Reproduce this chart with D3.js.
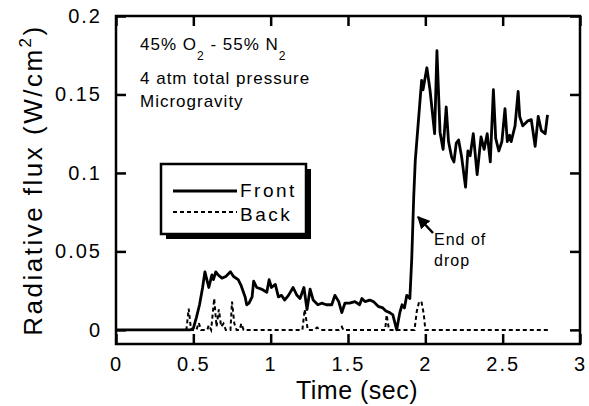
<!DOCTYPE html>
<html>
<head>
<meta charset="utf-8">
<script src="https://cdn.jsdelivr.net/npm/d3@7"></script>
<style>
    body { margin: 0; background: #fff; }
    svg { display: block; font-family: "Liberation Sans", Arial, Helvetica, sans-serif; }
    .frame { fill: none; stroke: #000; stroke-width: 2.5px; }
    .axis path { display: none; }
    .axis line { stroke: #000; stroke-width: 2.5px; }
    .axis text { font-size: 20px; letter-spacing: 2px; fill: #000; }
    .front { fill: none; stroke: #000; stroke-width: 2.8px; stroke-linejoin: round; }
    .back { fill: none; stroke: #000; stroke-width: 2px; stroke-dasharray: 4,3; }
</style>
</head>
<body>
<svg id="svg"></svg>
<script>
    // values
    const frontTime = [0, 0.48, 0.50, 0.52, 0.54, 0.56, 0.575, 0.60, 0.62, 0.63, 0.645, 0.66, 0.685,
        0.71, 0.74, 0.76, 0.79, 0.81, 0.835, 0.845, 0.86, 0.88, 0.89, 0.91, 0.94, 0.975, 0.99,
        1.005, 1.03, 1.05, 1.07, 1.09, 1.115, 1.145, 1.17, 1.19, 1.215, 1.235, 1.255, 1.275,
        1.305, 1.33, 1.36, 1.395, 1.415, 1.44, 1.46, 1.48, 1.51, 1.545, 1.575, 1.59, 1.61, 1.64,
        1.665, 1.695, 1.725, 1.745, 1.77, 1.79, 1.815, 1.835, 1.85, 1.865, 1.88, 1.90, 1.912,
        1.925, 1.935, 1.976, 1.985, 2.01, 2.03, 2.06, 2.075, 2.095, 2.115, 2.135, 2.15, 2.17,
        2.185, 2.20, 2.215, 2.235, 2.26, 2.275, 2.29, 2.31, 2.335, 2.36, 2.38, 2.40, 2.42, 2.44,
        2.455, 2.475, 2.495, 2.515, 2.53, 2.545, 2.555, 2.58, 2.60, 2.61, 2.63, 2.66, 2.685,
        2.71, 2.73, 2.75, 2.775, 2.79];
    const frontFlux = [0, 0, 0.001, 0.008, 0.016, 0.027, 0.037, 0.027, 0.035, 0.032, 0.037, 0.035, 0.033,
        0.034, 0.037, 0.034, 0.032, 0.028, 0.021, 0.016, 0.017, 0.021, 0.031, 0.027, 0.026, 0.024, 0.032,
        0.027, 0.029, 0.021, 0.022, 0.019, 0.022, 0.027, 0.022, 0.020, 0.027, 0.013, 0.026, 0.019,
        0.016, 0.017, 0.016, 0.016, 0.022, 0.018, 0.011, 0.017, 0.017, 0.018, 0.016, 0.020, 0.018, 0.019,
        0.018, 0.015, 0.014, 0.012, 0.011, 0.0096, 0, 0.011, 0.016, 0.014, 0.022, 0.020, 0.045,
        0.085, 0.108, 0.159, 0.153, 0.167, 0.153, 0.125, 0.178, 0.126, 0.115, 0.142, 0.120, 0.110,
        0.107, 0.119, 0.121, 0.110, 0.091, 0.114, 0.111, 0.125, 0.099, 0.123, 0.115, 0.125, 0.107, 0.153,
        0.122, 0.114, 0.120, 0.141, 0.120, 0.124, 0.120, 0.130, 0.152, 0.136, 0.130, 0.133, 0.134,
        0.117, 0.136, 0.127, 0.125, 0.137];

    const backTime = [0, 0.455, 0.47, 0.485, 0.52, 0.535, 0.55, 0.59, 0.60, 0.615, 0.635, 0.65, 0.665,
        0.68, 0.695, 0.71, 0.74, 0.75, 0.765, 0.78, 0.80, 0.81, 0.825, 1.205, 1.22, 1.24, 1.28, 1.30,
        1.32, 1.44, 1.46, 1.47, 1.74, 1.75, 1.765, 1.93, 1.945, 1.96, 1.975, 1.99, 2.0, 2.8];
    const backFlux = [0, 0, 0.0135, 0, 0, 0.0045, 0, 0, 0.003, 0, 0.020, 0.002, 0.013,
        0.002, 0.004, 0, 0, 0.018, 0.004, 0, 0, 0.004, 0, 0, 0.013, 0, 0, 0.0015,
        0, 0, 0.002, 0, 0, 0.0096, 0, 0, 0.012, 0.018, 0.018, 0.010, 0, 0];

    const xTicks = [0, 0.5, 1, 1.5, 2, 2.5, 3];
    const xTickLabels = ['0', '0.5', '1', '1.5', '2', '2.5', '3'];
    const yTicks = [0, 0.05, 0.1, 0.15, 0.2];
    const yTickLabels = ['0', '0.05', '0.1', '0.15', '0.2'];

    const margin = {top: 16, right: 9, bottom: 62, left: 116},
        width = 589 - margin.left - margin.right,
        height = 406 - margin.top - margin.bottom;

    const x = d3.scaleLinear().domain([0, 3]).range([0, width]);
    const y = d3.scaleLinear().domain([-0.009, 0.2]).range([height, 0]);

    const svg = d3.select('#svg')
        .attr('width', 589)
        .attr('height', 406);

    const g = svg.append('g')
        .attr('transform', 'translate(' + margin.left + ',' + margin.top + ')');

    const front = frontTime.map((t, i) => ({t: t, v: frontFlux[i]}));
    const back = backTime.map((t, i) => ({t: t, v: backFlux[i]}));

    const valueLine = d3.line()
        .x(d => x(d.t))
        .y(d => y(d.v));

    g.append('path').datum(back).attr('class', 'back').attr('d', valueLine);
    g.append('path').datum(front).attr('class', 'front').attr('d', valueLine);

    // axes with inward ticks on all four sides
    g.append('g')
        .attr('class', 'axis')
        .attr('transform', 'translate(0,' + height + ')')
        .call(d3.axisBottom(x).tickValues(xTicks).tickSizeInner(-10).tickSizeOuter(0)
            .tickPadding(13).tickFormat((d, i) => xTickLabels[i]));
    g.append('g')
        .attr('class', 'axis')
        .call(d3.axisTop(x).tickValues(xTicks).tickSizeInner(-10).tickSizeOuter(0)
            .tickFormat(''));
    g.append('g')
        .attr('class', 'axis')
        .call(d3.axisLeft(y).tickValues(yTicks).tickSizeInner(-10).tickSizeOuter(0)
            .tickPadding(14).tickFormat((d, i) => yTickLabels[i]));
    g.append('g')
        .attr('class', 'axis')
        .attr('transform', 'translate(' + width + ',0)')
        .call(d3.axisRight(y).tickValues(yTicks).tickSizeInner(-10).tickSizeOuter(0)
            .tickFormat(''));

    g.append('rect')
        .attr('class', 'frame')
        .attr('width', width)
        .attr('height', height);

    // axis titles
    svg.append('text')
        .attr('x', 357)
        .attr('y', 399)
        .attr('text-anchor', 'middle')
        .style('font-size', '25px')
        .style('letter-spacing', '0.5px')
        .text('Time  (sec)');

    const yTitle = svg.append('text')
        .attr('transform', 'translate(42,180) rotate(-90)')
        .attr('text-anchor', 'middle')
        .style('font-size', '26px')
        .style('letter-spacing', '2.5px');
    yTitle.append('tspan').text('Radiative  flux  (W/cm');
    yTitle.append('tspan').attr('dy', -11).style('font-size', '17px').text('2');
    yTitle.append('tspan').attr('dy', 11).text(')');

    // conditions
    const note = svg.append('g').style('font-size', '17px').style('letter-spacing', '1px');
    const l1 = note.append('text').attr('x', 140).attr('y', 50);
    l1.append('tspan').text('45% O');
    l1.append('tspan').attr('dy', 10).style('font-size', '12px').text('2');
    l1.append('tspan').attr('dy', -10).text('  -  55% N');
    l1.append('tspan').attr('dy', 10).style('font-size', '12px').text('2');
    note.append('text').attr('x', 140).attr('y', 84).text('4 atm total pressure');
    note.append('text').attr('x', 140).attr('y', 107).text('Microgravity');

    // legend
    const legend = svg.append('g').attr('transform', 'translate(161,164)');
    legend.append('rect')
        .attr('x', 5).attr('y', 5).attr('width', 145).attr('height', 70)
        .attr('fill', '#000');
    legend.append('rect')
        .attr('width', 145).attr('height', 70)
        .attr('fill', '#fff').attr('stroke', '#000').attr('stroke-width', 2.5);
    legend.append('line').attr('class', 'front')
        .attr('x1', 12).attr('x2', 76).attr('y1', 27).attr('y2', 27);
    legend.append('line').attr('class', 'back')
        .attr('x1', 12).attr('x2', 76).attr('y1', 48).attr('y2', 48);
    legend.append('text').attr('x', 79).attr('y', 33)
        .style('font-size', '19px').style('letter-spacing', '2.5px').text('Front');
    legend.append('text').attr('x', 79).attr('y', 57)
        .style('font-size', '19px').style('letter-spacing', '2.5px').text('Back');

    // end of drop annotation
    svg.append('defs').append('marker')
        .attr('id', 'head')
        .attr('viewBox', '0 0 10 10')
        .attr('refX', 9).attr('refY', 5)
        .attr('markerWidth', 5).attr('markerHeight', 5)
        .attr('markerUnits', 'strokeWidth')
        .attr('orient', 'auto')
        .append('path').attr('d', 'M0,0L10,5L0,10Z').attr('fill', '#000');
    svg.append('line')
        .attr('x1', 433).attr('y1', 233)
        .attr('x2', 418).attr('y2', 217)
        .attr('stroke', '#000').attr('stroke-width', 2.5)
        .attr('marker-end', 'url(#head)');
    const note2 = svg.append('g').style('font-size', '16px').style('letter-spacing', '1px');
    note2.append('text').attr('x', 434).attr('y', 245).text('End of');
    note2.append('text').attr('x', 434).attr('y', 266).text('drop');
</script>
</body>
</html>
